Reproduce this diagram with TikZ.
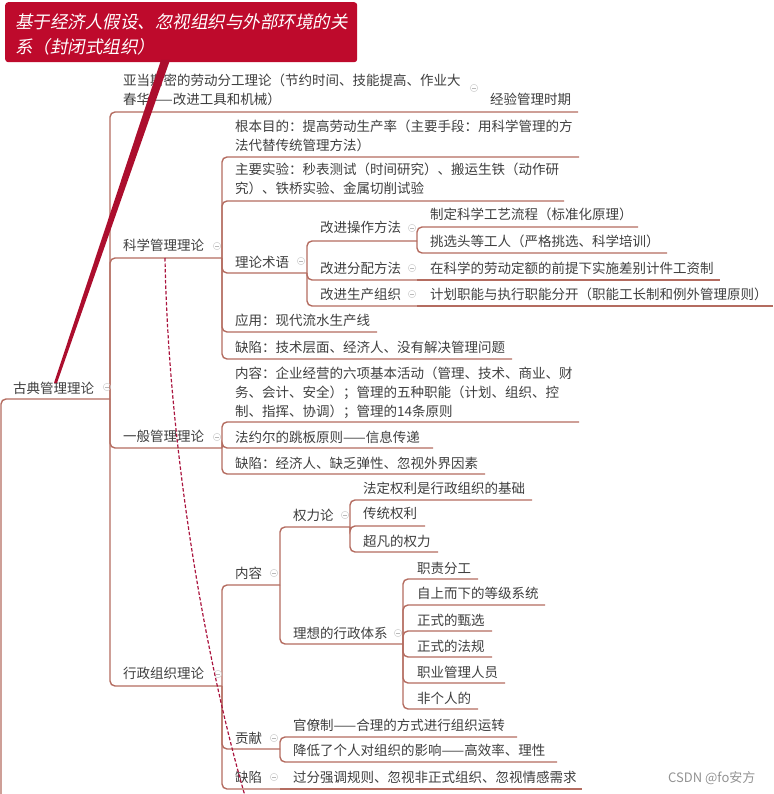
\documentclass[tikz,border=0pt]{standalone}
\usepackage{fontspec}
\newfontfamily\cjk{Noto Sans CJK SC}
\newfontfamily\cjkit[FakeSlant=0.2]{Noto Sans CJK SC}
\definecolor{branch}{RGB}{180,108,96}
\definecolor{txt}{RGB}{62,62,62}
\definecolor{callred}{RGB}{190,10,44}
\definecolor{ptrred}{RGB}{172,14,46}
\definecolor{dashred}{RGB}{170,20,62}
\tikzset{
  lbl/.style={anchor=base west, inner sep=0pt, text=txt, font=\cjk\fontsize{13.5}{19}\selectfont, align=left},
  br/.style={draw=branch, line width=1.4pt, rounded corners=5pt},
  fold/.style={circle, draw=gray!40, line width=0.5pt, minimum size=7.5pt, inner sep=0pt,
    path picture={\draw[gray!55, line width=0.6pt] ([xshift=-2pt]path picture bounding box.center) -- ([xshift=2pt]path picture bounding box.center);}},
}
% #3 = vertical centre of the LAST text line
\newcommand{\tn}[4]{\node[lbl] (#1) at (#2,#3+5) {#4};}
\begin{document}
\begin{tikzpicture}[x=1pt,y=-1pt]
\useasboundingbox (0,0) rectangle (773,794);

% ---------- text nodes ----------
\tn{root}{13}{388}{古典管理理论}
\tn{adam}{123}{100}{亚当斯密的劳动分工理论（节约时间、技能提高、作业大\\春华——改进工具和机械）}
\tn{exp}{490}{100}{经验管理时期}
\tn{sci}{123}{245}{科学管理理论}
\tn{gen}{123}{436}{一般管理理论}
\tn{adm}{123}{673}{行政组织理论}

\tn{s1}{235}{146}{根本目的：提高劳动生产率（主要手段：用科学管理的方\\法代替传统管理方法）}
\tn{s2}{235}{189}{主要实验：秒表测试（时间研究）、搬运生铁（动作研\\究）、铁桥实验、金属切削试验}
\tn{s3}{235}{262}{理论术语}
\tn{s4}{235}{320}{应用：现代流水生产线}
\tn{s5}{235}{347}{缺陷：技术层面、经济人、没有解决管理问题}

\tn{t1}{320}{228}{改进操作方法}
\tn{t2}{320}{268}{改进分配方法}
\tn{t3}{320}{294}{改进生产组织}
\tn{t11}{430}{215}{制定科学工艺流程（标准化原理）}
\tn{t12}{430}{242}{挑选头等工人（严格挑选、科学培训）}
\tn{t21}{430}{268}{在科学的劳动定额的前提下实施差别计件工资制}
\tn{t31}{430}{294}{计划职能与执行职能分开（职能工长制和例外管理原则）}

\tn{g1}{235}{411}{内容：企业经营的六项基本活动（管理、技术、商业、财\\务、会计、安全）；管理的五种职能（计划、组织、控\\制、指挥、协调）；管理的14条原则}
\tn{g2}{235}{437}{法约尔的跳板原则——信息传递}
\tn{g3}{235}{463}{缺陷：经济人、缺乏弹性、忽视外界因素}

\tn{a1}{235}{573}{内容}
\tn{a2}{235}{738}{贡献}
\tn{a3}{235}{777}{缺陷}
\tn{p1}{293}{515}{权力论}
\tn{p2}{293}{633}{理想的行政体系}
\tn{p11}{363}{488}{法定权利是行政组织的基础}
\tn{p12}{363}{513}{传统权利}
\tn{p13}{363}{541}{超凡的权力}
\tn{p21}{417}{568}{职责分工}
\tn{p22}{417}{593}{自上而下的等级系统}
\tn{p23}{417}{620}{正式的甄选}
\tn{p24}{417}{646}{正式的法规}
\tn{p25}{417}{672}{职业管理人员}
\tn{p26}{417}{698}{非个人的}
\tn{c1}{293}{725}{官僚制——合理的方式进行组织运转}
\tn{c2}{293}{750}{降低了个人对组织的影响——高效率、理性}
\tn{d1}{293}{777}{过分强调规则、忽视非正式组织、忽视情感需求}

% ---------- underline end points ----------
\coordinate (root-d) at (1,794);
\coordinate (root-e) at (110,399);
\coordinate (exp-e) at (578,112);
\coordinate (sci-e) at (222,258);
\coordinate (gen-e) at (222,448);
\coordinate (adm-e) at (222,686);
\coordinate (s1-e) at (579,157);
\coordinate (s2-e) at (564,201);
\coordinate (s3-e) at (307,273);
\coordinate (s4-e) at (377,332);
\coordinate (s5-e) at (512,359);
\coordinate (t1-e) at (417,241);
\coordinate (t2-e) at (417,280);
\coordinate (t3-e) at (417,306);
\coordinate (t11-e) at (638,227);
\coordinate (t12-e) at (667,253);
\coordinate (t21-e) at (720,280);
\coordinate (t31-e) at (773,306);
\coordinate (g1-e) at (579,422);
\coordinate (g2-e) at (433,448);
\coordinate (g3-e) at (485,474);
\coordinate (a1-e) at (280,585);
\coordinate (a2-e) at (280,749);
\coordinate (a3-e) at (280,789);
\coordinate (p1-e) at (350,527);
\coordinate (p2-e) at (403,644);
\coordinate (p11-e) at (532,500);
\coordinate (p12-e) at (425,526);
\coordinate (p13-e) at (438,552);
\coordinate (p21-e) at (478,579);
\coordinate (p22-e) at (545,605);
\coordinate (p23-e) at (492,631);
\coordinate (p24-e) at (492,657);
\coordinate (p25-e) at (505,683);
\coordinate (p26-e) at (478,709);
\coordinate (c1-e) at (517,737);
\coordinate (c2-e) at (557,762);
\coordinate (d1-e) at (582,789);

% ---------- connectors ----------
\draw[br] (root-d) |- (root-e);
\foreach \c in {exp,sci,gen,adm} \draw[br] (root-e) |- (\c-e);
\foreach \c in {s1,s2,s3,s4,s5} \draw[br] (sci-e) |- (\c-e);
\foreach \c in {t1,t2,t3} \draw[br] (s3-e) |- (\c-e);
\foreach \c in {t11,t12} \draw[br] (t1-e) |- (\c-e);
\draw[br] (t2-e) -- (t21-e);
\draw[br] (t3-e) -- (t31-e);
\foreach \c in {g1,g2,g3} \draw[br] (gen-e) |- (\c-e);
\foreach \c in {a1,a2,a3} \draw[br] (adm-e) |- (\c-e);
\foreach \c in {p1,p2} \draw[br] (a1-e) |- (\c-e);
\foreach \c in {p11,p12,p13} \draw[br] (p1-e) |- (\c-e);
\foreach \c in {p21,p22,p23,p24,p25,p26} \draw[br] (p2-e) |- (\c-e);
\foreach \c in {c1,c2} \draw[br] (a2-e) |- (\c-e);
\draw[br] (a3-e) -- (d1-e);

% ---------- fold markers ----------
\node[fold] (f0) at (107,387) {};
\node[fold] (f1) at (474,88) {};
\node[fold] (f2) at (217,246) {};
\node[fold] (f3) at (301,261) {};
\node[fold] (f4) at (412,228) {};
\node[fold] (f5) at (412,268) {};
\node[fold] (f6) at (412,294) {};
\node[fold] (f7) at (217,437) {};
\node[fold] (f8) at (218,674) {};
\node[fold] (f9) at (274,573) {};
\node[fold] (f10) at (345,515) {};
\node[fold] (f11) at (398,633) {};
\node[fold] (f12) at (274,738) {};
\node[fold] (f13) at (274,777) {};

% ---------- dashed relation ----------
\coordinate (dash-s) at (165,258);
\coordinate (dash-e) at (245,796);
\draw[dashred, line width=1.2pt, dash pattern=on 3.5pt off 2pt] (dash-s) .. controls (168,430) and (200,640) .. (dash-e);

% ---------- callout ----------
\node[fill=callred, rounded corners=3pt, anchor=north west, minimum width=352pt, minimum height=60pt, inner sep=0pt] (callout) at (5,2) {};
\coordinate (ptr-a) at (161,60);
\coordinate (ptr-b) at (170,60);
\coordinate (ptr-c) at (57,383);
\coordinate (ptr-d) at (54,383);
\fill[ptrred] (ptr-a) -- (ptr-b) -- (ptr-c) -- (ptr-d) -- cycle;
\node[anchor=base west, inner sep=0pt, text=white, font=\cjkit\fontsize{17.5}{25}\selectfont] (co1) at (15,28.5) {基于经济人假设、忽视组织与外部环境的关};
\node[anchor=base west, inner sep=0pt, text=white, font=\cjkit\fontsize{17.5}{25}\selectfont] (co2) at (15,53.5) {系（封闭式组织）};

% ---------- watermark ----------
\node[anchor=base west, inner sep=0pt, text=gray!85, font=\cjk\fontsize{13}{15}\selectfont] (wm) at (668,782.5) {CSDN @fo安方};
\end{tikzpicture}
\end{document}
